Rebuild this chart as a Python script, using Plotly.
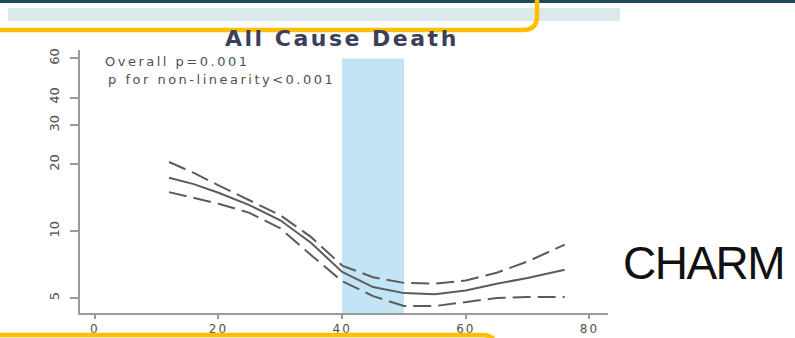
import math
import plotly.graph_objects as go

# Ejection fraction (%) grid for the fitted spline
lvef = [12, 16, 20, 25, 30, 35, 40, 45, 50, 55, 60, 65, 70, 76]
# Event rate estimate and 95% confidence limits
rate_mid = [17.4, 16.3, 14.9, 13.1, 11.2, 8.85, 6.55, 5.6, 5.26, 5.2, 5.4, 5.8, 6.15, 6.7]
rate_hi = [20.5, 18.3, 16.1, 13.8, 11.8, 9.4, 7.0, 6.2, 5.85, 5.8, 6.0, 6.5, 7.3, 8.7]
rate_lo = [15.0, 14.1, 13.3, 12.1, 10.3, 7.8, 5.95, 5.1, 4.6, 4.6, 4.8, 5.0, 5.05, 5.05]

# Mid-range EF band
band_ef = [40, 50]

x_ticks = [0, 20, 40, 60, 80]
y_ticks = [5, 10, 20, 30, 40, 60]

x_range = [-2.4, 83]
y_range = [math.log10(4.28), math.log10(65.5)]

W, H = 795, 338
ML, MR, MT, MB = 80, 187, 50, 25
PW, PH = W - ML - MR, H - MT - MB


def fx(px):
    return (px - ML) / PW


def fy(py):
    return (H - MB - py) / PH


def spaced(text, sp):
    return f'<span style="letter-spacing:{sp}px">{text}</span>'


LINE = "#5c5c5c"

fig = go.Figure()

fig.add_trace(go.Scatter(x=lvef, y=rate_hi, mode="lines",
                         line=dict(color=LINE, width=2, dash="18px,7px"),
                         hoverinfo="skip", showlegend=False))
fig.add_trace(go.Scatter(x=lvef, y=rate_mid, mode="lines",
                         line=dict(color=LINE, width=2),
                         hoverinfo="skip", showlegend=False))
fig.add_trace(go.Scatter(x=lvef, y=rate_lo, mode="lines",
                         line=dict(color=LINE, width=2, dash="18px,7px"),
                         hoverinfo="skip", showlegend=False))

band_top = (math.log10(y_ticks[-1]) - y_range[0]) / (y_range[1] - y_range[0])

shapes = [
    # shaded EF band
    dict(type="rect", xref="x", yref="paper", x0=band_ef[0], x1=band_ef[1],
         y0=0, y1=band_top, fillcolor="#c3e4f5", line=dict(width=0), layer="below"),
    # slide header rule
    dict(type="rect", xref="paper", yref="paper", x0=fx(0), x1=fx(W),
         y0=fy(3), y1=fy(-2), fillcolor="#1f4b5c", line=dict(width=0), layer="above"),
    # pale header bar
    dict(type="rect", xref="paper", yref="paper", x0=fx(8), x1=fx(620),
         y0=fy(21), y1=fy(8), fillcolor="#dbe8ec", line=dict(width=0), layer="above"),
    # gold frame, top
    dict(type="path", xref="paper", yref="paper", layer="above",
         path=(f"M {fx(-5)},{fy(30)} L {fx(523)},{fy(30)} "
               f"Q {fx(537)},{fy(30)} {fx(537)},{fy(16)} L {fx(537)},{fy(-5)}"),
         line=dict(color="#fdbf00", width=4.5)),
    # gold frame, bottom
    dict(type="path", xref="paper", yref="paper", layer="above",
         path=(f"M {fx(-5)},{fy(335)} L {fx(482)},{fy(335)} "
               f"Q {fx(494)},{fy(335)} {fx(496)},{fy(345)}"),
         line=dict(color="#fdbf00", width=4.5)),
]

annotations = [
    dict(text=spaced("<b>All Cause Death</b>", 2.5), xref="paper", yref="paper",
         x=fx(342), y=fy(39), xanchor="center", yanchor="middle", showarrow=False,
         font=dict(family="DejaVu Sans", size=22, color="#3b3f5a")),
    dict(text=spaced("Overall p=0.001", 2.5), xref="paper", yref="paper",
         x=fx(103), y=fy(61), xanchor="left", yanchor="middle", showarrow=False,
         font=dict(family="DejaVu Sans", size=13, color="#505050")),
    dict(text=spaced("p for non-linearity<0.001", 2.5), xref="paper", yref="paper",
         x=fx(106), y=fy(79), xanchor="left", yanchor="middle", showarrow=False,
         font=dict(family="DejaVu Sans", size=13, color="#505050")),
    dict(text=spaced("CHARM", -1.5), xref="paper", yref="paper",
         x=fx(703), y=fy(263), xanchor="center", yanchor="middle", showarrow=False,
         font=dict(family="Liberation Sans", size=46, color="#111111")),
]

fig.update_layout(
    width=W, height=H,
    margin=dict(l=ML, r=MR, t=MT, b=MB),
    paper_bgcolor="white", plot_bgcolor="white",
    shapes=shapes, annotations=annotations,
    xaxis=dict(range=x_range, tickvals=x_ticks, automargin=False,
               ticktext=[spaced(str(v), 2) for v in x_ticks],
               ticks="outside", ticklen=4, tickwidth=1.5, tickcolor="#9a9a9a",
               showline=True, linecolor="#9a9a9a", linewidth=2,
               showgrid=False, zeroline=False,
               tickfont=dict(family="DejaVu Sans", size=12, color="#505050")),
    yaxis=dict(type="log", range=y_range, tickvals=y_ticks, automargin=False,
               ticktext=[str(v) for v in y_ticks], tickangle=-90,
               ticks="outside", ticklen=8, tickwidth=1.5, tickcolor="#9a9a9a",
               showline=True, linecolor="#9a9a9a", linewidth=2,
               showgrid=False, zeroline=False, ticklabelstandoff=6,
               tickfont=dict(family="DejaVu Sans", size=13, color="#505050")),
)

fig.write_html("out.html")
